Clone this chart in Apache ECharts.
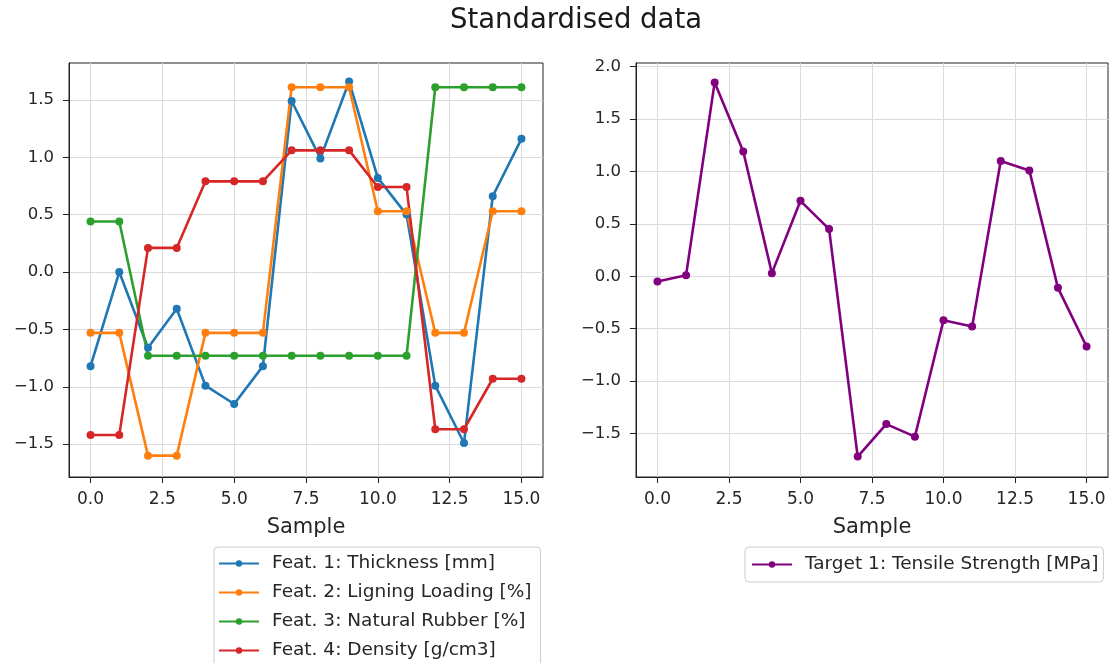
<!DOCTYPE html>
<html>
<head>
<meta charset="utf-8">
<script src="https://cdn.jsdelivr.net/npm/echarts@6/dist/echarts.min.js"></script>
<style>
  html, body { margin: 0; padding: 0; background: #fff; }
  #chart { width: 1110px; height: 663px; }
</style>
</head>
<body>
<div id="chart"></div>
<script>
// Sample index shared by both panels
const samples = [0, 1, 2, 3, 4, 5, 6, 7, 8, 9, 10, 11, 12, 13, 14, 15];

// Standardised features
const thickness = [-0.82, 0.00, -0.66, -0.32, -0.99, -1.15, -0.82, 1.49, 0.99, 1.66, 0.82, 0.50, -0.99, -1.49, 0.66, 1.16];
const ligningLoading = [-0.53, -0.53, -1.60, -1.60, -0.53, -0.53, -0.53, 1.61, 1.61, 1.61, 0.53, 0.53, -0.53, -0.53, 0.53, 0.53];
const naturalRubber = [0.44, 0.44, -0.73, -0.73, -0.73, -0.73, -0.73, -0.73, -0.73, -0.73, -0.73, -0.73, 1.61, 1.61, 1.61, 1.61];
const density = [-1.42, -1.42, 0.21, 0.21, 0.79, 0.79, 0.79, 1.06, 1.06, 1.06, 0.74, 0.74, -1.37, -1.37, -0.93, -0.93];

// Standardised target
const tensileStrength = [-0.05, 0.01, 1.85, 1.19, 0.03, 0.72, 0.45, -1.72, -1.41, -1.53, -0.42, -0.48, 1.10, 1.01, -0.11, -0.67];

// Tick labels
const xTicks = [0, 2.5, 5, 7.5, 10, 12.5, 15];
const yTicksLeft = [-1.5, -1.0, -0.5, 0.0, 0.5, 1.0, 1.5];
const yTicksRight = [-1.5, -1.0, -0.5, 0.0, 0.5, 1.0, 1.5, 2.0];

const featureNames = [
  'Feat. 1: Thickness [mm]',
  'Feat. 2: Ligning Loading [%]',
  'Feat. 3: Natural Rubber [%]',
  'Feat. 4: Density [g/cm3]'
];
const targetName = 'Target 1: Tensile Strength [MPa]';

const FONT = 'DejaVu Sans';
const TEXT = '#262626';
const fmt = v => (v < 0 ? '\u2212' : '') + Math.abs(v).toFixed(1);
const pairs = ys => samples.map((x, i) => [x, ys[i]]);

function xAxis(gridIndex) {
  return {
    type: 'value', gridIndex, min: -0.75, max: 15.75,
    name: 'Sample', nameLocation: 'middle', nameGap: 40,
    nameTextStyle: { fontFamily: FONT, fontSize: 21, color: TEXT },
    axisLine: { show: true, onZero: false, lineStyle: { color: '#222', width: 1 } },
    axisTick: { show: true, length: 6, customValues: xTicks, lineStyle: { color: '#222' } },
    axisLabel: { customValues: xTicks, formatter: fmt, fontFamily: FONT, fontSize: 17, color: TEXT, margin: 14 },
    splitLine: { show: true, lineStyle: { color: '#dadada', width: 1 } }
  };
}
function yAxis(gridIndex, min, max, ticks) {
  return {
    type: 'value', gridIndex, min, max,
    axisLine: { show: true, onZero: false, lineStyle: { color: '#222', width: 1 } },
    axisTick: { show: true, length: 6, customValues: ticks, lineStyle: { color: '#222' } },
    axisLabel: { customValues: ticks, formatter: fmt, fontFamily: FONT, fontSize: 16.5, color: TEXT, margin: 15 },
    splitLine: { show: true, lineStyle: { color: '#dadada', width: 1 } }
  };
}
function lineSeries(name, ys, color, idx) {
  return {
    name, type: 'line', xAxisIndex: idx, yAxisIndex: idx,
    data: pairs(ys), color,
    symbol: 'circle', symbolSize: 8, showSymbol: true,
    lineStyle: { width: 2.6, color }, itemStyle: { color },
    emphasis: { disabled: true }, animation: false
  };
}
const legendBase = {
  type: 'plain', orient: 'vertical', itemWidth: 40, itemHeight: 8, itemGap: 10,
  height: 300,
  borderColor: '#cccccc', borderWidth: 1, borderRadius: 4,
  backgroundColor: '#fff',
  textStyle: { fontFamily: FONT, fontSize: 18.5, color: TEXT, padding: [0, 0, 0, 8] },
  selectedMode: false
};

const chart = echarts.init(document.getElementById('chart'), null, { renderer: 'canvas' });
chart.setOption({
  backgroundColor: '#fff',
  animation: false,
  title: {
    text: 'Standardised data', left: 571, top: 2, textAlign: 'center',
    textStyle: { fontFamily: FONT, fontSize: 27.5, fontWeight: 'normal', color: '#1a1a1a' }
  },
  grid: [
    { left: 69, top: 63, width: 474, height: 414, show: true, borderColor: '#222', borderWidth: 1, backgroundColor: 'transparent' },
    { left: 636, top: 63, width: 472, height: 414, show: true, borderColor: '#222', borderWidth: 1, backgroundColor: 'transparent' }
  ],
  xAxis: [xAxis(0), xAxis(1)],
  yAxis: [yAxis(0, -1.786, 1.821, yTicksLeft), yAxis(1, -1.915, 2.035, yTicksRight)],
  legend: [
    Object.assign({}, legendBase, { left: 214, top: 547, data: featureNames, padding: [7, 9, 7, 4] }),
    Object.assign({}, legendBase, { left: 745, top: 547, data: [targetName], padding: [8, 5, 8, 6] })
  ],
  series: [
    lineSeries(featureNames[0], thickness, '#1f77b4', 0),
    lineSeries(featureNames[1], ligningLoading, '#ff7f0e', 0),
    lineSeries(featureNames[2], naturalRubber, '#2ca02c', 0),
    lineSeries(featureNames[3], density, '#d62728', 0),
    lineSeries(targetName, tensileStrength, '#800080', 1)
  ]
});
</script>
</body>
</html>
